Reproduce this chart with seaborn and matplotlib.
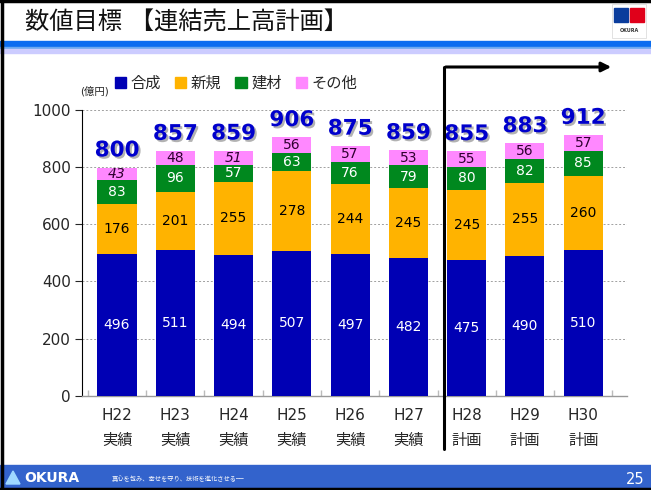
import matplotlib
matplotlib.use("Agg")
import matplotlib.pyplot as plt
import matplotlib.patches as mpatches
import matplotlib.patheffects as pe
import seaborn as sns
import pandas as pd
import numpy as np

# ============================================================
# DATA
# ============================================================
years = ["H22", "H23", "H24", "H25", "H26", "H27", "H28", "H29", "H30"]
kinds = ["実績", "実績", "実績", "実績", "実績", "実績", "計画", "計画", "計画"]
gousei = [496, 511, 494, 507, 497, 482, 475, 490, 510]
shinki = [176, 201, 255, 278, 244, 245, 245, 255, 260]
kenzai = [83, 96, 57, 63, 76, 79, 80, 82, 85]
sonota = [43, 48, 51, 56, 57, 53, 55, 56, 57]
totals = [800, 857, 859, 906, 875, 859, 855, 883, 912]

series_names = ["合成", "新規", "建材", "その他"]
series_colors = ["#0000b4", "#ffb300", "#00881e", "#ff88ff"]
label_colors = ["white", "black", "white", "#300030"]

df = pd.DataFrame({"year": years, "合成": gousei, "新規": shinki,
                   "建材": kenzai, "その他": sonota})

# ============================================================
# FIGURE
# ============================================================
sns.set_theme(style="white")
plt.rcParams["font.family"] = ["DejaVu Sans", "Noto Sans CJK JP"]

fig = plt.figure(figsize=(6.51, 4.9), dpi=100)
ax = fig.add_axes([0.126, 0.192, 0.837, 0.584])

bottom = np.zeros(len(years))
for name, color, lc in zip(series_names, series_colors, label_colors):
    sns.barplot(data=df, x="year", y=name, order=years, color=color,
                bottom=bottom, width=0.67, ax=ax, saturation=1,
                linewidth=0, zorder=3)
    for i, v in enumerate(df[name]):
        style = "italic" if name == "その他" and i in (0, 2) else "normal"
        ax.text(i, bottom[i] + v / 2, str(v), ha="center", va="center",
                fontsize=10, color=lc, zorder=4, style=style)
    bottom = bottom + df[name].values

shadow = [pe.SimplePatchShadow(offset=(1.5, -1.5), shadow_rgbFace="#808080", alpha=0.6),
          pe.Normal()]
for i, t in enumerate(totals):
    ax.text(i, bottom[i] + 25, str(t), ha="center", va="bottom",
            fontsize=15.5, fontweight="bold", color="#0000cc",
            path_effects=shadow, zorder=5, clip_on=False)

ax.set_ylim(0, 1000)
ax.set_xlim(-0.6, 8.75)
ax.set_yticks(range(0, 1001, 200))
ax.tick_params(axis="y", labelsize=11, length=5, width=0.8,
               direction="out", left=True, pad=3)
ax.set_xticks(range(len(years)))
ax.set_xticklabels([f"{y}\n{k}" for y, k in zip(years, kinds)],
                   fontsize=11, linespacing=1.8)
ax.tick_params(axis="x", length=0, pad=9)
ax.set_xticks(np.arange(-0.5, 9, 1), minor=True)
ax.tick_params(axis="x", which="minor", length=4, color="#bbbbbb",
               direction="in", bottom=True)
ax.set_xlabel("")
ax.set_ylabel("")
for y in range(200, 1001, 200):
    ax.axhline(y, color="#a0a0a0", lw=0.7, ls=(0, (2, 2)), zorder=1)
for s in ["top", "right"]:
    ax.spines[s].set_visible(False)
ax.spines["left"].set_color("black")
ax.spines["left"].set_linewidth(0.8)
ax.spines["bottom"].set_color("#999999")
ax.spines["bottom"].set_linewidth(1.0)

fig.text(0.145, 1 - 91 / 490, "(億円)", fontsize=7.5, ha="center", va="center")

handles = [mpatches.Patch(color=c) for c in series_colors]
fig.legend(handles, series_names, loc="center left",
           bbox_to_anchor=(0.155, 1 - 83 / 490), ncol=4, frameon=False,
           fontsize=11, handlelength=0.75, handleheight=0.75,
           handletextpad=0.3, columnspacing=0.9)

# ============================================================
# PAGE DECORATION
# ============================================================
fig.text(25 / 651, 1 - 23 / 490, "数値目標 【連結売上高計画】",
         fontsize=17.5, ha="left", va="center", color="#111111")
fig.patches.append(mpatches.Rectangle((0, 1 - 47 / 490), 1, 6 / 490,
                                      transform=fig.transFigure,
                                      color="#0a6cf0", zorder=0))
fig.patches.append(mpatches.Rectangle((0, 1 - 49.5 / 490), 1, 2.5 / 490,
                                      transform=fig.transFigure,
                                      color="#6aa8f0", zorder=0))
fig.patches.append(mpatches.Rectangle((0, 1 - 53 / 490), 1, 3.5 / 490,
                                      transform=fig.transFigure,
                                      color="#ccccff", zorder=0))

# logo top right
fig.patches.append(mpatches.Rectangle((612 / 651, 1 - 38 / 490), 34 / 651, 34 / 490,
                                      transform=fig.transFigure, facecolor="white",
                                      edgecolor="#dddddd", lw=0.6))
fig.patches.append(mpatches.Rectangle((614 / 651, 1 - 22 / 490), 14 / 651, 14 / 490,
                                      transform=fig.transFigure, color="#0a3c9c"))
fig.patches.append(mpatches.Rectangle((630 / 651, 1 - 22 / 490), 14 / 651, 14 / 490,
                                      transform=fig.transFigure, color="#e0001a"))
fig.text(629 / 651, 1 - 31 / 490, "OKURA", fontsize=3.5, ha="center",
         va="center", fontweight="bold", color="#333333")

# footer
fig.patches.append(mpatches.Rectangle((0, 0), 1, 25 / 490,
                                      transform=fig.transFigure,
                                      color="#3363cc", zorder=0))
fig.patches.append(mpatches.Polygon([(6 / 651, 6 / 490), (13 / 651, 19 / 490),
                                     (20 / 651, 6 / 490)], closed=True,
                                    transform=fig.transFigure, color="#a0d8ff"))
fig.text(24 / 651, 12 / 490, "OKURA", fontsize=10, fontweight="bold",
         color="white", ha="left", va="center")
fig.text(112 / 651, 11 / 490, "真心を包み、幸せを守り、技術を進化させる──",
         fontsize=4.5, color="white", ha="left", va="center")
fig.text(635 / 651, 11 / 490, "25", fontsize=10.5, color="white",
         ha="center", va="center")

# plan divider arrow
fig.add_artist(plt.Line2D([444 / 651, 444 / 651], [1 - 449 / 490, 1 - 67 / 490],
                          transform=fig.transFigure, color="black", lw=2.2))
fig.add_artist(mpatches.FancyArrowPatch((443 / 651, 1 - 67 / 490),
                                        (614 / 651, 1 - 67 / 490),
                                        transform=fig.transFigure,
                                        arrowstyle="-|>", mutation_scale=14,
                                        color="black", lw=2.2))

# page frame: left, top and bottom edges only
for xs, ys in [([0.003, 0.003], [0, 1]), ([0, 1], [0.997, 0.997]),
               ([0, 1], [0.002, 0.002])]:
    fig.add_artist(plt.Line2D(xs, ys, transform=fig.transFigure,
                              color="black", lw=2.5))

fig.savefig("out.png", dpi=100)
